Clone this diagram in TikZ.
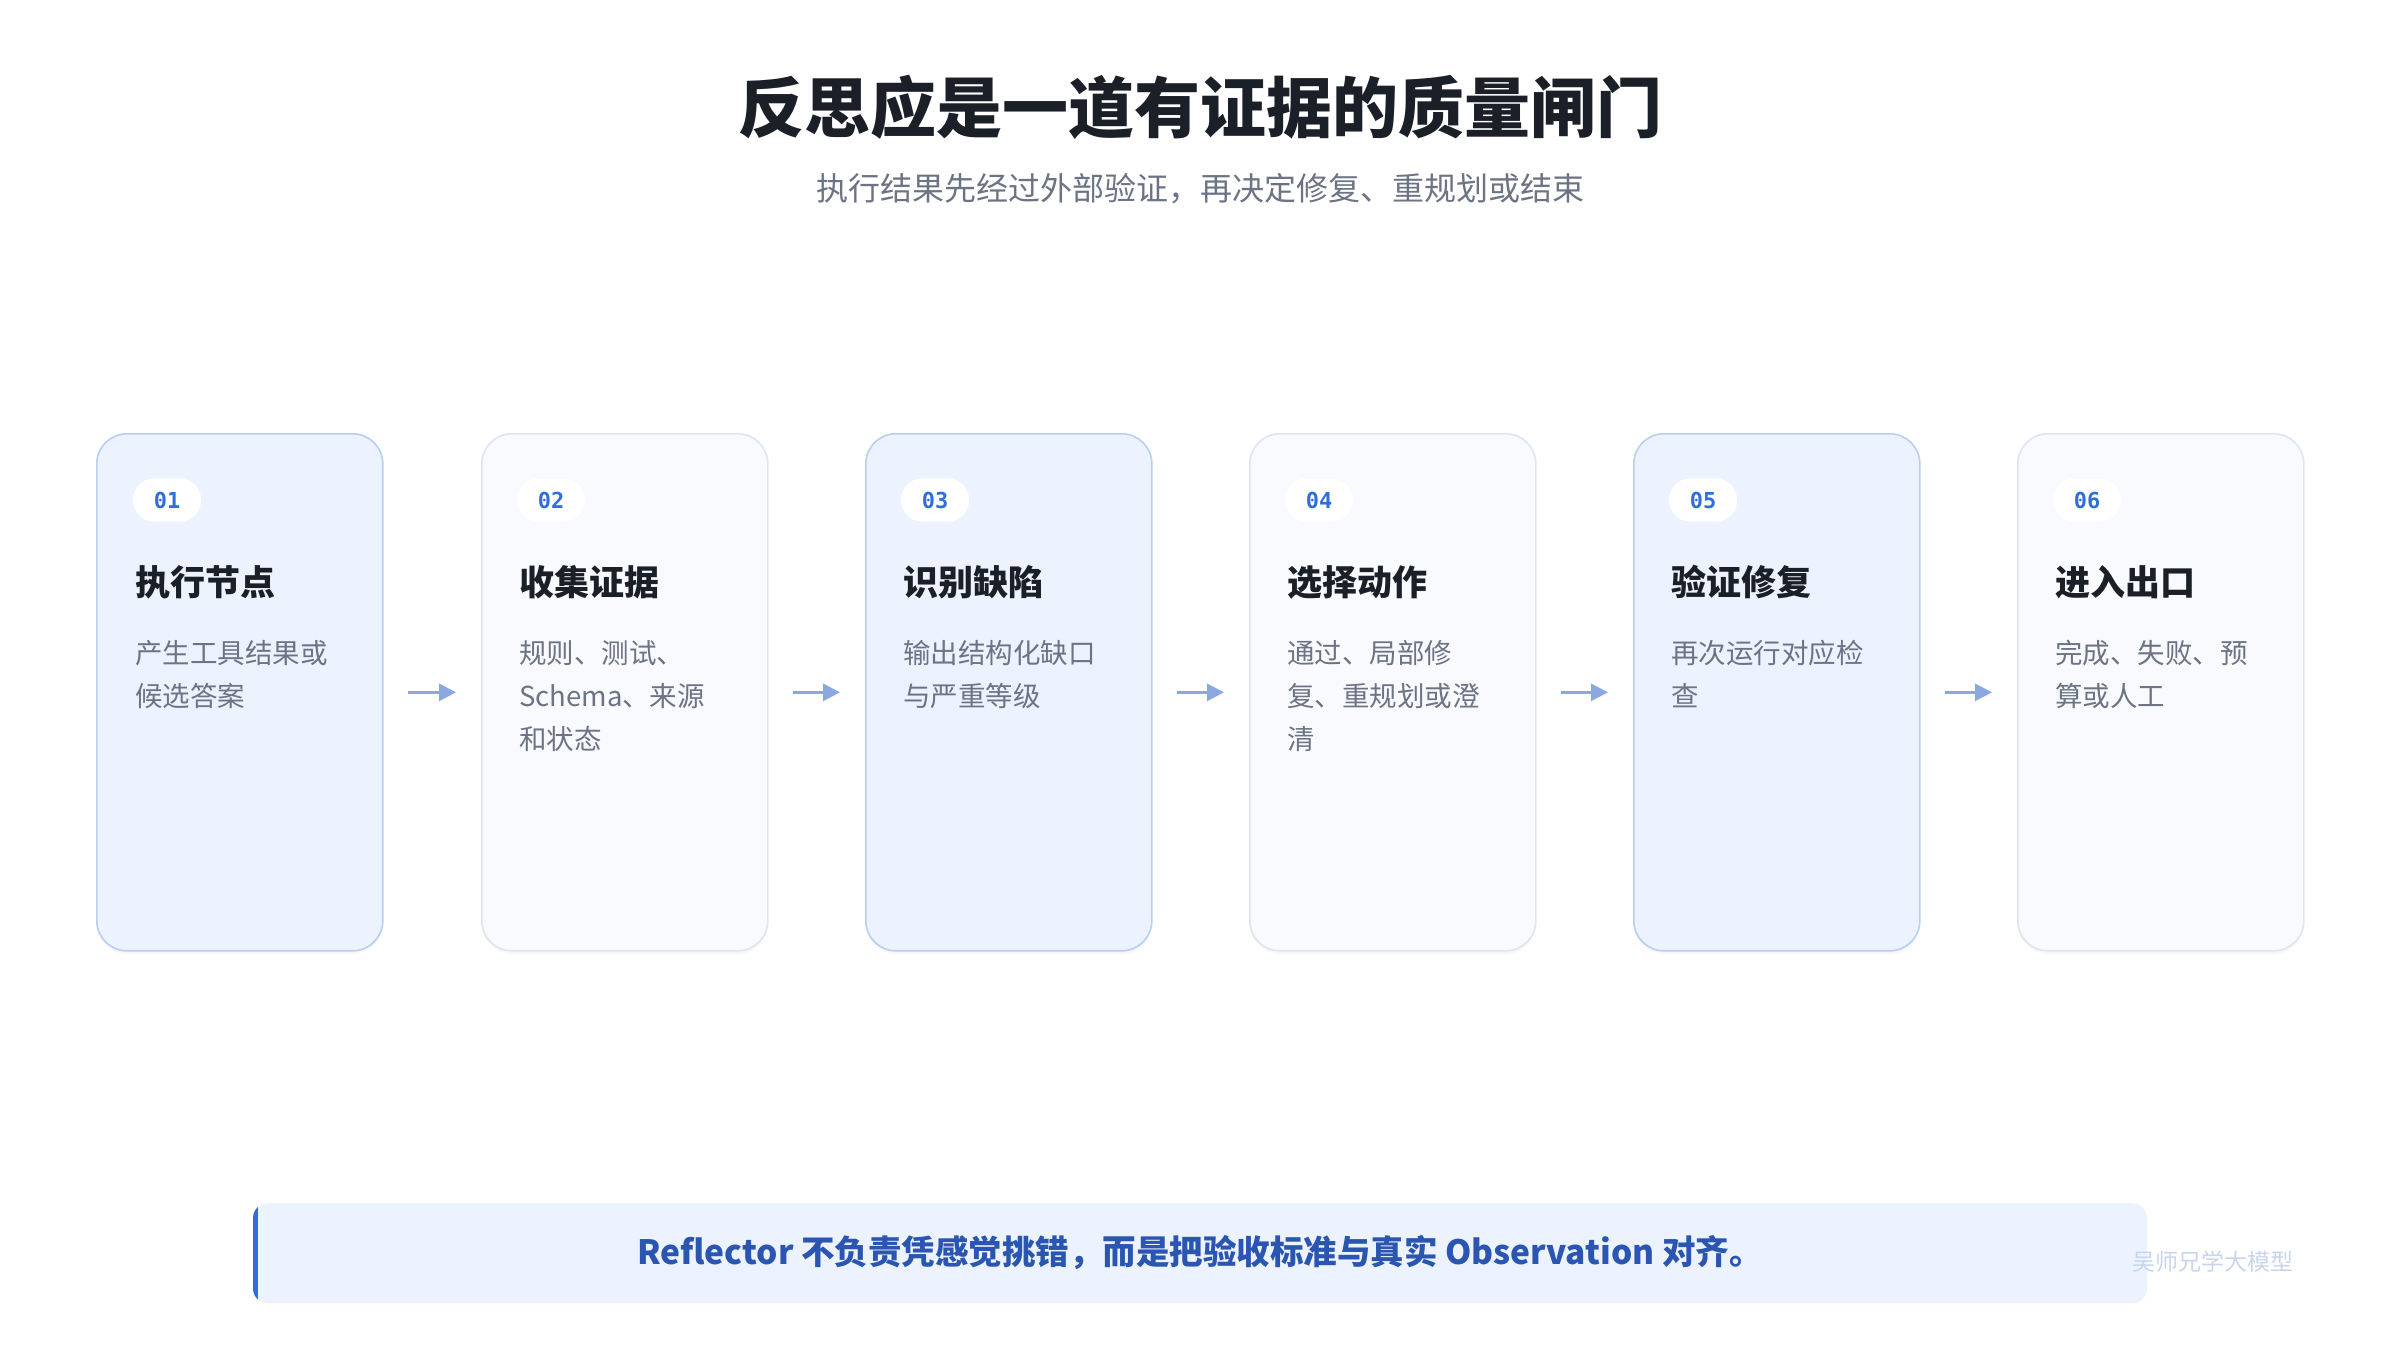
\documentclass[tikz,border=0pt]{standalone}
\usepackage{fontspec}
\setmainfont{Noto Sans CJK SC}
\newfontfamily\monofont{DejaVu Sans Mono}
\usepackage{tikz}
\usetikzlibrary{positioning,arrows.meta,shadows}

\definecolor{bluefill}{HTML}{EDF3FE}
\definecolor{blueline}{HTML}{B8CFF3}
\definecolor{grayfill}{HTML}{F8FAFD}
\definecolor{grayline}{HTML}{DFE5EE}
\definecolor{numblue}{HTML}{2F6FDB}
\definecolor{inkdark}{HTML}{1B1F27}
\definecolor{inkgray}{HTML}{6B7385}
\definecolor{arrowblue}{HTML}{8AA8E0}
\definecolor{notetext}{HTML}{2A55B0}
\definecolor{markgray}{HTML}{C9D5EC}

\tikzset{
  card/.style={draw,line width=1.6pt,rounded corners=30pt,minimum width=286pt,
    minimum height=517pt,anchor=north west,
    drop shadow={shadow xshift=0pt,shadow yshift=-3pt,opacity=0.03,fill=black}},
  bluecard/.style={card,fill=bluefill,draw=blueline},
  graycard/.style={card,fill=grayfill,draw=grayline},
  badge/.style={fill=white,rounded corners=21pt,minimum width=68pt,minimum height=43pt,
    inner sep=0pt,text=numblue,font=\monofont\bfseries\fontsize{22}{22}\selectfont},
  cardtitle/.style={anchor=west,inner sep=0pt,text=inkdark,
    font=\bfseries\fontsize{35}{35}\selectfont},
  carddesc/.style={anchor=north west,inner sep=0pt,align=left,text=inkgray,
    font=\fontsize{27.5}{43}\selectfont},
  flow/.style={draw=arrowblue,line width=3pt,shorten <=24pt,shorten >=25pt,
    -{Triangle[length=17pt,width=17pt]}}
}

\begin{document}
\begin{tikzpicture}[x=1pt,y=-1pt]
  \useasboundingbox[fill=white] (0,0) rectangle (2400,1350);

  % heading
  \node (title) [text=inkdark,font=\bfseries\fontsize{66}{66}\selectfont] at (1200,107) {反思应是一道有证据的质量闸门};
  \node (subtitle) [text=inkgray,font=\fontsize{32}{32}\selectfont] at (1200,189) {执行结果先经过外部验证，再决定修复、重规划或结束};

  % cards
  \node (c1) [bluecard] at (96,433) {};
  \node (c2) [graycard] at (481,433) {};
  \node (c3) [bluecard] at (865,433) {};
  \node (c4) [graycard] at (1249,433) {};
  \node (c5) [bluecard] at (1633,433) {};
  \node (c6) [graycard] at (2017,433) {};

  \node (n1) [badge] at (167,500) {01};
  \node (n2) [badge] at (551,500) {02};
  \node (n3) [badge] at (935,500) {03};
  \node (n4) [badge] at (1319,500) {04};
  \node (n5) [badge] at (1703,500) {05};
  \node (n6) [badge] at (2087,500) {06};

  \node (t1) [cardtitle] at (135,582) {执行节点};
  \node (t2) [cardtitle] at (519,582) {收集证据};
  \node (t3) [cardtitle] at (903,582) {识别缺陷};
  \node (t4) [cardtitle] at (1287,582) {选择动作};
  \node (t5) [cardtitle] at (1671,582) {验证修复};
  \node (t6) [cardtitle] at (2055,582) {进入出口};

  \node (d1) [carddesc] at (135,640) {产生工具结果或\\候选答案};
  \node (d2) [carddesc] at (519,640) {规则、测试、\\Schema、来源\\和状态};
  \node (d3) [carddesc] at (903,640) {输出结构化缺口\\与严重等级};
  \node (d4) [carddesc] at (1287,640) {通过、局部修\\复、重规划或澄\\清};
  \node (d5) [carddesc] at (1671,640) {再次运行对应检\\查};
  \node (d6) [carddesc] at (2055,640) {完成、失败、预\\算或人工};

  \draw[flow] (c1.east) -- (c2.west);
  \draw[flow] (c2.east) -- (c3.west);
  \draw[flow] (c3.east) -- (c4.west);
  \draw[flow] (c4.east) -- (c5.west);
  \draw[flow] (c5.east) -- (c6.west);

  % note banner
  \node (note) [fill=bluefill,rounded corners=15pt,minimum width=1894pt,minimum height=100pt,
    anchor=north west] at (253,1203) {};
  \begin{scope}
    \clip[rounded corners=15pt] (note.north west) rectangle (note.south east);
    \fill[numblue] (note.north west) rectangle ([xshift=5pt]note.south west);
  \end{scope}
  \node (notetext) [text=notetext,font=\bfseries\fontsize{33.5}{34}\selectfont] at (1200,1252)
    {Reflector 不负责凭感觉挑错，而是把验收标准与真实 Observation 对齐。};

  \node (mark) [text=markgray,font=\fontsize{23}{23}\selectfont,anchor=west,inner sep=0pt] at (2132,1262) {吴师兄学大模型};
\end{tikzpicture}
\end{document}
